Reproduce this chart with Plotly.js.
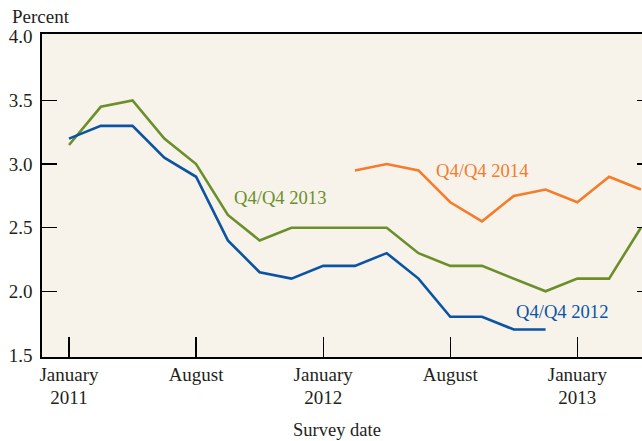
<!DOCTYPE html>
<html>
<head>
<meta charset="utf-8">
<script src="https://cdn.plot.ly/plotly-3.0.1.min.js"></script>
<style>
html,body{margin:0;padding:0;overflow:hidden;width:642px;height:441px;background:#fff;}
#chart{width:660px;height:441px;}
</style>
</head>
<body>
<div id="chart"></div>
<script>
// Survey dates (8 surveys per year)
const surveyDates = ["2011-01","2011-03","2011-04","2011-06","2011-08","2011-09","2011-11","2011-12",
                     "2012-01","2012-03","2012-04","2012-06","2012-08","2012-09","2012-10","2012-12",
                     "2013-01","2013-03","2013-05"];
const q4q4_2012 = [3.20,3.30,3.30,3.05,2.90,2.40,2.15,2.10,2.20,2.20,2.30,2.10,1.80,1.80,1.70,1.70,null,null,null];
const q4q4_2013 = [3.15,3.45,3.50,3.20,3.00,2.60,2.40,2.50,2.50,2.50,2.50,2.30,2.20,2.20,2.10,2.00,2.10,2.10,2.50];
const q4q4_2014 = [null,null,null,null,null,null,null,null,null,2.95,3.00,2.95,2.70,2.55,2.75,2.80,2.70,2.90,2.80];
const monthTickVals = ["2011-01","2011-08","2012-01","2012-08","2013-01"];
const monthTickText = ["January","August","January","August","January"];
const yearTickVals = ["2011-01","2012-01","2013-01"];
const yearTickText = ["2011","2012","2013"];
const yLabelVals = [1.5,2.0,2.5,3.0,3.5,4.0];
const yTickVals = [2.0,2.5,3.0,3.5];

const BLUE = "#0b53a3", GREEN = "#6b8f2a", ORANGE = "#f47c2a";
const FONT = "Liberation Serif, Times New Roman, serif";
const TXT = "#231f20";

const traces = [
  {x: surveyDates, y: q4q4_2014, xaxis: "x2", yaxis: "y2", type: "scatter", mode: "lines", line: {color: ORANGE, width: 2.6}, hoverinfo: "skip"},
  {x: surveyDates, y: q4q4_2013, type: "scatter", mode: "lines", line: {color: GREEN, width: 2.6}, hoverinfo: "skip"},
  {x: surveyDates, y: q4q4_2012, type: "scatter", mode: "lines", line: {color: BLUE, width: 2.6}, hoverinfo: "skip"}
];

const yRange = [1.484, 4.022];
const xRange = [-0.85, 18.35];
const layout = {
  width: 660, height: 441,
  margin: {l: 42, r: 8, t: 34, b: 84},
  paper_bgcolor: "#ffffff",
  plot_bgcolor: "#f7f3eb",
  showlegend: false,
  font: {family: FONT, size: 19, color: TXT},
  xaxis: {
    type: "category", categoryorder: "array", categoryarray: surveyDates,
    range: xRange,
    tickmode: "array", tickvals: monthTickVals, ticktext: monthTickText,
    ticks: "inside", ticklen: 20, tickwidth: 1.3, tickcolor: "#000",
    showline: true, linecolor: "#000", linewidth: 1.6, mirror: true,
    showgrid: false, zeroline: false,
    tickfont: {family: FONT, size: 19, color: TXT}
  },
  xaxis2: {
    type: "category", categoryorder: "array", categoryarray: surveyDates,
    overlaying: "x", anchor: "y2", side: "bottom",
    range: xRange,
    tickmode: "array", tickvals: yearTickVals, ticktext: yearTickText,
    ticks: "", showline: false, showgrid: false, zeroline: false,
    ticklabelstandoff: 27,
    tickfont: {family: FONT, size: 19, color: TXT}
  },
  yaxis: {
    range: yRange,
    tickmode: "array", tickvals: yLabelVals, ticktext: yLabelVals.map(v => v.toFixed(1)),
    ticks: "", showline: true, linecolor: "#000", linewidth: 1.6, mirror: true,
    showgrid: false, zeroline: false, ticklabelstandoff: 4,
    tickfont: {family: FONT, size: 19, color: TXT}
  },
  yaxis2: {
    overlaying: "y", anchor: "x2", side: "left", range: yRange,
    tickmode: "array", tickvals: yTickVals,
    ticks: "inside", ticklen: 15, tickwidth: 1.3, tickcolor: "#000",
    showticklabels: false, showline: false, mirror: "ticks",
    showgrid: false, zeroline: false
  },
  annotations: [
    {text: "Percent", xref: "paper", yref: "paper", x: -0.053, y: 1.053, xanchor: "left", yanchor: "middle", showarrow: false, font: {family: FONT, size: 19, color: TXT}},
    {text: "Survey date", xref: "paper", yref: "paper", x: 0.483, y: -0.226, xanchor: "center", yanchor: "middle", showarrow: false, font: {family: FONT, size: 18.5, color: TXT}},
    {text: "Q4/Q4 2013", x: 6.63, y: 2.74, xanchor: "center", yanchor: "middle", showarrow: false, font: {family: FONT, size: 18.6, color: GREEN}},
    {text: "Q4/Q4 2014", x: 12.99, y: 2.95, xanchor: "center", yanchor: "middle", showarrow: false, font: {family: FONT, size: 18.6, color: ORANGE}},
    {text: "Q4/Q4 2012", x: 15.53, y: 1.84, xanchor: "center", yanchor: "middle", showarrow: false, font: {family: FONT, size: 18.6, color: BLUE}}
  ]
};

Plotly.newPlot("chart", traces, layout, {staticPlot: true, displayModeBar: false});
</script>
</body>
</html>
